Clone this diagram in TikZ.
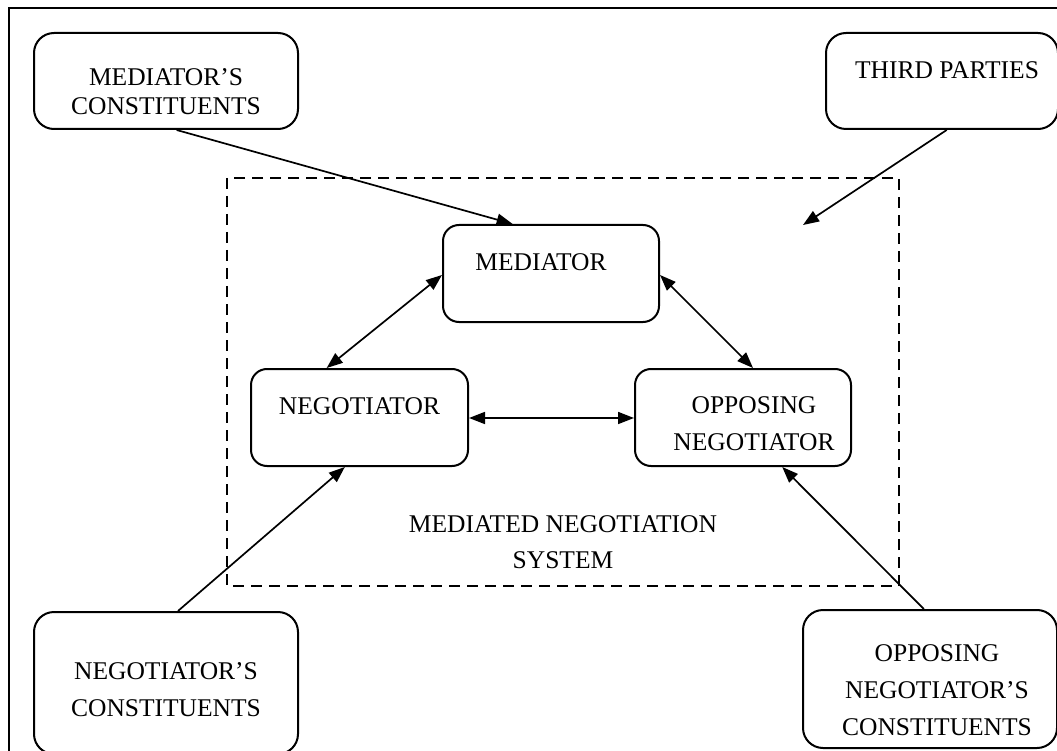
\documentclass[tikz,border=0pt]{standalone}
\usepackage{fontspec}
\setmainfont{Liberation Serif}
\usetikzlibrary{arrows.meta,calc}
\begin{document}
\begin{tikzpicture}[x=1pt,y=-1pt,
  box/.style={draw,line width=2pt,rounded corners=16pt,inner sep=0pt},
  bigbox/.style={box,rounded corners=20pt},
  lbl/.style={font=\fontsize{25.5}{37}\selectfont,align=center,inner sep=0pt},
  tightlbl/.style={font=\fontsize{25.5}{29}\selectfont,align=center,inner sep=0pt},
  link/.style={line width=1.7pt},
  tip/.style={-{Triangle[length=16pt,width=12pt]}},
  twotip/.style={{Triangle[length=16pt,width=12pt]}-{Triangle[length=16pt,width=12pt]}}]
\useasboundingbox (0,0) rectangle (1057,751);
\clip (0,0) rectangle (1057,751);
% outer frame, running past the right and lower edges
\draw[line width=1.8pt] (9,8) rectangle (1075,775);
% dashed boundary of the mediated negotiation system
\draw[line width=2pt,dash pattern=on 11pt off 7pt] (227,178) rectangle (899,586);
\node[lbl,font=\fontsize{25.5}{36}\selectfont] (systxt) at (563,542) {MEDIATED NEGOTIATION\\SYSTEM};

% boxes
\node[bigbox,minimum width=264pt,minimum height=96pt] (mc) at (166,81) {};
\node[tightlbl] (mctxt) at (166,91.5) {MEDIATOR’S\\CONSTITUENTS};
\node[bigbox,minimum width=232pt,minimum height=96pt] (tp) at (942,81) {};
\node[lbl] (tptxt) at (947,70) {THIRD PARTIES};
\node[box,minimum width=216pt,minimum height=97pt] (med) at (551,273.5) {};
\node[lbl] (medtxt) at (541,262) {MEDIATOR};
\node[box,minimum width=217pt,minimum height=97pt] (neg) at (359.5,417.5) {};
\node[lbl] (negtxt) at (359.5,406) {NEGOTIATOR};
\node[box,minimum width=216pt,minimum height=97pt] (opp) at (743,417.5) {};
\node[lbl] (opptxt) at (754,424) {OPPOSING\\NEGOTIATOR};
\node[bigbox,minimum width=264pt,minimum height=142pt] (nc) at (166,683) {};
\node[lbl] (nctxt) at (166,690) {NEGOTIATOR’S\\CONSTITUENTS};
\node[bigbox,minimum width=254pt,minimum height=138pt] (oc) at (930,679) {};
\node[lbl] (octxt) at (937,690) {OPPOSING\\NEGOTIATOR’S\\CONSTITUENTS};

% free end of the third-party influence
\coordinate (tpend) at (803,225);

% connectors
\draw[link,tip] ($(mc.south west)!0.54!(mc.south east)$) -- ($(med.north west)!0.324!(med.north east)$);
\draw[link,tip] ($(tp.south west)!0.52!(tp.south east)$) -- (tpend);
\draw[link,twotip] ($(neg.north west)!0.35!(neg.north east)$) -- ($(med.north west)!0.515!(med.south west)$);
\draw[link,twotip] ($(med.north east)!0.515!(med.south east)$) -- ($(opp.north west)!0.546!(opp.north east)$);
\draw[link,twotip] ($(neg.north east)!0.505!(neg.south east)$) -- ($(opp.north west)!0.505!(opp.south west)$);
\draw[link,tip] ($(nc.north west)!0.545!(nc.north east)$) -- ($(neg.south west)!0.433!(neg.south east)$);
\draw[link,tip] ($(oc.north west)!0.476!(oc.north east)$) -- ($(opp.south west)!0.68!(opp.south east)$);
\end{tikzpicture}
\end{document}
